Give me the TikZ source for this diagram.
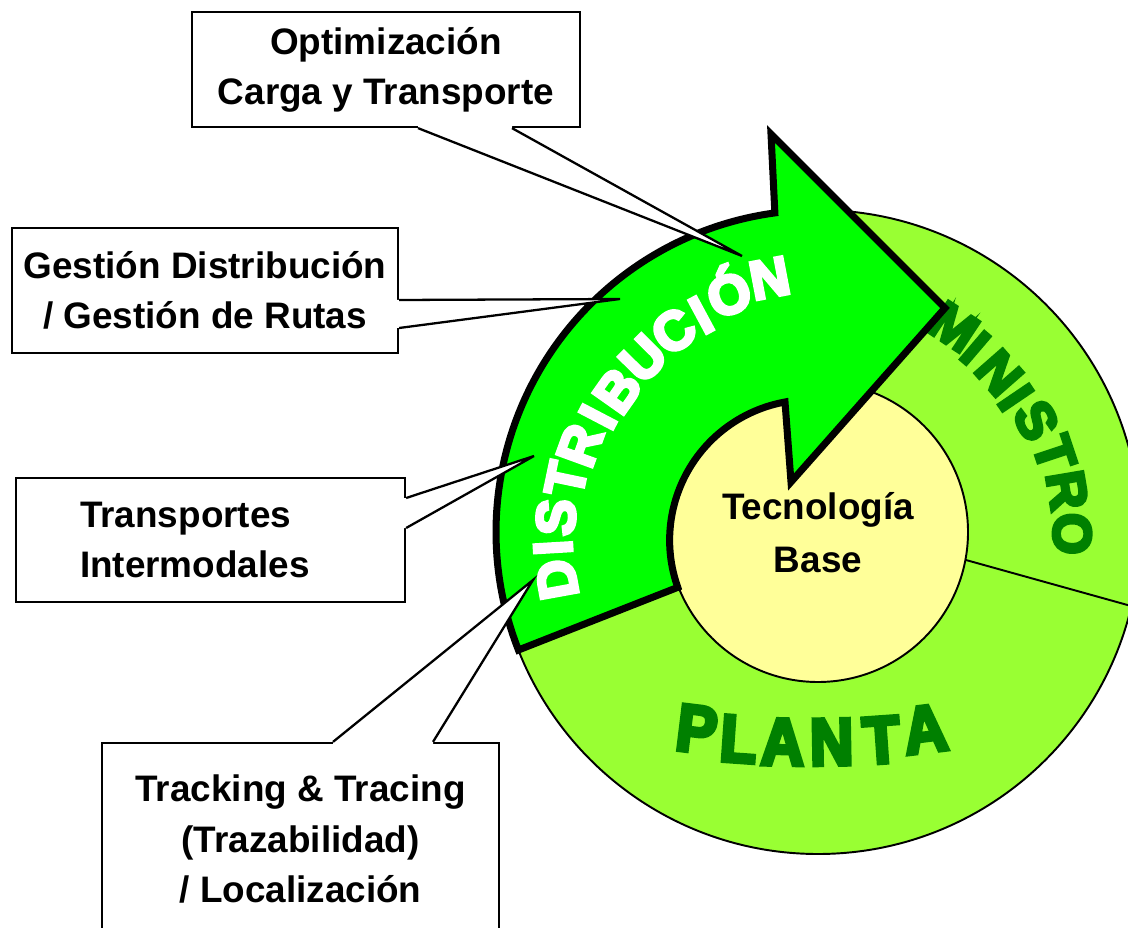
\documentclass[tikz,border=0pt]{standalone}
\usepackage{fontspec}
\setmainfont{Liberation Sans}
\newfontfamily\arcfont[FakeBold=6]{Liberation Sans Bold}
\newfontfamily\plantfont[FakeBold=6, FakeStretch=0.9]{Liberation Sans Bold}
\usetikzlibrary{calc}
\definecolor{arrowgreen}{HTML}{00FF00}
\definecolor{ringgreen}{HTML}{99FF33}
\definecolor{coreyellow}{HTML}{FFFF99}
\definecolor{darkgreen}{HTML}{008000}
\tikzset{
  callbox/.style={draw, line width=1.3pt, fill=white, inner sep=0pt,
    font=\bfseries\fontsize{21}{28.5}\selectfont, align=center},
  wedge/.style={line width=1.3pt, line join=miter},
  distlet/.style={font=\arcfont\fontsize{31}{31}\selectfont, text=white,
    inner sep=0pt, text height=22pt, text depth=0pt},
  sumlet/.style={font=\arcfont\fontsize{30.5}{30.5}\selectfont, text=darkgreen,
    inner sep=0pt, text height=22pt, text depth=0pt},
  plantlet/.style={font=\plantfont\fontsize{38}{38}\selectfont, text=darkgreen,
    inner sep=0pt, anchor=base}
}
\begin{document}
\begin{tikzpicture}[x=0.02cm, y=0.02cm]
    \useasboundingbox (0,0) rectangle (1128,927);
    \clip (0,0) rectangle (1128,927);
    \coordinate (c) at (818,395);
    % ring and core
    \filldraw[fill=ringgreen, line width=1.1pt] (c) circle[radius=322];
    \draw[line width=1.1pt] ($(c)+(-10.7:150)$) -- ($(c)+(-13.3:322)$);
    \filldraw[fill=coreyellow, line width=1.1pt] (c) circle[radius=150];
    \foreach \ch/\ang/\rad [count=\i] in {M/56.5/247, I/49.5/243, N/41.3/242, I/34.2/240,
        S/27.1/246, T/18.4/250, R/9.5/253.5, O/-0.4/255}
      \node[sumlet, rotate=\ang-90] (sum\i) at ($(c)+(\ang:\rad)$) {\ch};
    \foreach \ch/\x/\y/\tilt [count=\i] in {P/694/175/-7, L/737/165/-4, A/782/162/-1,
        N/832/162/1, T/883/164/4, A/928/175/7}
      \node[plantlet, rotate=\tilt] (pla\i) at (\x,\y) {\ch};
    % the arrow
    \draw[fill=arrowgreen, line width=4pt, line join=miter, miter limit=10]
      ($(c)+(201.5:322)$) arc[start angle=201.5, end angle=97.7, radius=322]
      -- (771,793) -- (945,619) -- (791,445) -- (785,525)
      arc[start angle=100.3, end angle=199.6, radius=140.5] -- cycle;
    \foreach \ch/\ang/\rad [count=\i] in {D/190.3/266, I/183.4/266, S/176.8/263, T/168.2/258,
        R/160/254, I/152.4/249, B/144.8/246, U/135.2/247, C/125.7/248, I/118.3/247,
        Ó/110.5/254, N/100.8/259}
      \node[distlet, rotate=\ang-90] (dis\i) at ($(c)+(\ang:\rad)$) {\ch};
    \node[font=\bfseries\fontsize{21}{30}\selectfont, align=center] (tec) at (818,394) {Tecnología\\Base};
    % callouts
    \node[callbox, minimum width=7.76cm, minimum height=2.3cm] (opt) at (386,857.5)
      {Optimización\\Carga y Transporte};
    \coordinate (opta) at ($(opt.south)+(32,0)$);
    \coordinate (optb) at ($(opt.south)+(126,0)$);
    \coordinate (optp) at (742,671);
    \fill[white] ($(opta)+(0,4)$) -- (opta) -- (optp) -- (optb) -- ($(optb)+(0,4)$) -- cycle;
    \draw[wedge] (opta) -- (optp) -- (optb);
    \node[callbox, minimum width=7.72cm, minimum height=2.5cm] (gest) at (205,636.5)
      {Gestión Distribución\\/ Gestión de Rutas};
    \coordinate (gesta) at ($(gest.east)+(0,-9.5)$);
    \coordinate (gestb) at ($(gest.east)+(0,-37.5)$);
    \coordinate (gestp) at (620,628);
    \fill[white] ($(gesta)+(-4,0)$) -- (gesta) -- (gestp) -- (gestb) -- ($(gestb)+(-4,0)$) -- cycle;
    \draw[wedge] (gesta) -- (gestp) -- (gestb);
    \node[callbox, minimum width=7.78cm, minimum height=2.48cm, text width=5.22cm, align=left]
      (inter) at (210.5,387) {Transportes\\Intermodales};
    \coordinate (intera) at ($(inter.east)+(0,42)$);
    \coordinate (interb) at ($(inter.east)+(0,12)$);
    \coordinate (interp) at (534,471);
    \fill[white] ($(intera)+(-4,0)$) -- (intera) -- (interp) -- (interb) -- ($(interb)+(-4,0)$) -- cycle;
    \draw[wedge] (intera) -- (interp) -- (interb);
    \node[callbox, minimum width=7.94cm, minimum height=3.84cm] (track) at (300.5,88)
      {Tracking \& Tracing\\(Trazabilidad)\\/ Localización};
    \coordinate (tracka) at ($(track.north)+(32.5,0)$);
    \coordinate (trackb) at ($(track.north)+(132.5,0)$);
    \coordinate (trackp) at (533,347);
    \fill[white] ($(tracka)+(0,-4)$) -- (tracka) -- (trackp) -- (trackb) -- ($(trackb)+(0,-4)$) -- cycle;
    \draw[wedge] (tracka) -- (trackp) -- (trackb);
\end{tikzpicture}
\end{document}
